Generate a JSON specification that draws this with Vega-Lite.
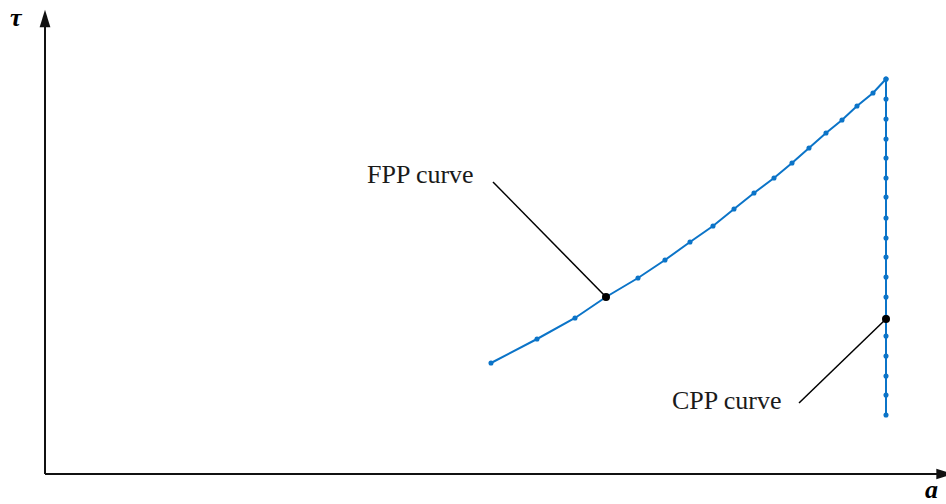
{
  "$schema": "https://vega.github.io/schema/vega-lite/v6.json",
  "width": 946,
  "height": 504,
  "padding": 0,
  "autosize": {"type": "none"},
  "background": "white",
  "config": {"view": {"stroke": null}},
  "datasets": {
    "curve": [
      {"series": "FPP", "i": 1, "a": 4.46, "t": 1.11},
      {"series": "FPP", "i": 2, "a": 4.92, "t": 1.35},
      {"series": "FPP", "i": 3, "a": 5.30, "t": 1.56},
      {"series": "FPP", "i": 4, "a": 5.61, "t": 1.77},
      {"series": "FPP", "i": 5, "a": 5.93, "t": 1.96},
      {"series": "FPP", "i": 6, "a": 6.20, "t": 2.14},
      {"series": "FPP", "i": 7, "a": 6.45, "t": 2.32},
      {"series": "FPP", "i": 8, "a": 6.68, "t": 2.48},
      {"series": "FPP", "i": 9, "a": 6.89, "t": 2.65},
      {"series": "FPP", "i": 10, "a": 7.09, "t": 2.81},
      {"series": "FPP", "i": 11, "a": 7.29, "t": 2.96},
      {"series": "FPP", "i": 12, "a": 7.47, "t": 3.11},
      {"series": "FPP", "i": 13, "a": 7.64, "t": 3.26},
      {"series": "FPP", "i": 14, "a": 7.81, "t": 3.41},
      {"series": "FPP", "i": 15, "a": 7.97, "t": 3.54},
      {"series": "FPP", "i": 16, "a": 8.12, "t": 3.68},
      {"series": "FPP", "i": 17, "a": 8.28, "t": 3.81},
      {"series": "FPP", "i": 18, "a": 8.41, "t": 3.95},
      {"series": "CPP", "i": 1, "a": 8.41, "t": 3.95},
      {"series": "CPP", "i": 2, "a": 8.41, "t": 3.75},
      {"series": "CPP", "i": 3, "a": 8.41, "t": 3.55},
      {"series": "CPP", "i": 4, "a": 8.41, "t": 3.35},
      {"series": "CPP", "i": 5, "a": 8.41, "t": 3.16},
      {"series": "CPP", "i": 6, "a": 8.41, "t": 2.96},
      {"series": "CPP", "i": 7, "a": 8.41, "t": 2.77},
      {"series": "CPP", "i": 8, "a": 8.41, "t": 2.56},
      {"series": "CPP", "i": 9, "a": 8.41, "t": 2.36},
      {"series": "CPP", "i": 10, "a": 8.41, "t": 2.17},
      {"series": "CPP", "i": 11, "a": 8.41, "t": 1.97},
      {"series": "CPP", "i": 12, "a": 8.41, "t": 1.77},
      {"series": "CPP", "i": 13, "a": 8.41, "t": 1.57},
      {"series": "CPP", "i": 14, "a": 8.41, "t": 1.38},
      {"series": "CPP", "i": 15, "a": 8.41, "t": 1.18},
      {"series": "CPP", "i": 16, "a": 8.41, "t": 0.98},
      {"series": "CPP", "i": 17, "a": 8.41, "t": 0.79},
      {"series": "CPP", "i": 18, "a": 8.41, "t": 0.59}
    ],
    "axes": [
      {"name": "tau", "a": 0, "t": 0, "a2": 0, "t2": 4.48},
      {"name": "a", "a": 0, "t": 0, "a2": 8.93, "t2": 0}
    ],
    "leaders": [
      {"name": "FPP", "a": 4.48, "t": 2.92, "a2": 5.61, "t2": 1.77},
      {"name": "CPP", "a": 7.54, "t": 0.71, "a2": 8.41, "t2": 1.55}
    ],
    "marked": [
      {"name": "FPP", "a": 5.61, "t": 1.77},
      {"name": "CPP", "a": 8.41, "t": 1.55}
    ],
    "labels": [
      {"label": "FPP curve", "a": 3.22, "t": 2.91},
      {"label": "CPP curve", "a": 6.27, "t": 0.65}
    ]
  },
  "layer": [
    {
      "data": {"name": "axes"},
      "mark": {"type": "rule", "color": "#111111", "strokeWidth": 2},
      "encoding": {
        "x": {"field": "a", "type": "quantitative", "scale": {"domain": [-0.45, 9.01], "nice": false, "zero": false}, "axis": null},
        "y": {"field": "t", "type": "quantitative", "scale": {"domain": [-0.30, 4.74], "nice": false, "zero": false}, "axis": null},
        "x2": {"field": "a2"},
        "y2": {"field": "t2"}
      }
    },
    {
      "data": {"values": [{"axis": "tau", "a": 0, "t": 4.555}]},
      "mark": {"type": "point", "shape": "M0,-1L0.62,1L-0.62,1Z", "filled": true, "color": "#111111", "opacity": 1, "size": 300},
      "encoding": {
        "x": {"field": "a", "type": "quantitative", "axis": null},
        "y": {"field": "t", "type": "quantitative", "axis": null}
      }
    },
    {
      "data": {"values": [{"axis": "a", "a": 9.0, "t": 0}]},
      "mark": {"type": "point", "shape": "M1,0L-1,0.62L-1,-0.62Z", "filled": true, "color": "#111111", "opacity": 1, "size": 300},
      "encoding": {
        "x": {"field": "a", "type": "quantitative", "axis": null},
        "y": {"field": "t", "type": "quantitative", "axis": null}
      }
    },
    {
      "data": {"name": "curve"},
      "mark": {"type": "line", "color": "#0b74c8", "strokeWidth": 2},
      "encoding": {
        "x": {"field": "a", "type": "quantitative", "axis": null},
        "y": {"field": "t", "type": "quantitative", "axis": null},
        "detail": {"field": "series"},
        "order": {"field": "i", "type": "quantitative"}
      }
    },
    {
      "data": {"name": "curve"},
      "mark": {"type": "circle", "color": "#0b74c8", "opacity": 1, "size": 26},
      "encoding": {
        "x": {"field": "a", "type": "quantitative", "axis": null},
        "y": {"field": "t", "type": "quantitative", "axis": null}
      }
    },
    {
      "data": {"name": "leaders"},
      "mark": {"type": "rule", "color": "#000000", "strokeWidth": 1.5},
      "encoding": {
        "x": {"field": "a", "type": "quantitative", "axis": null},
        "y": {"field": "t", "type": "quantitative", "axis": null},
        "x2": {"field": "a2"},
        "y2": {"field": "t2"}
      }
    },
    {
      "data": {"name": "marked"},
      "mark": {"type": "circle", "color": "#000000", "opacity": 1, "size": 64},
      "encoding": {
        "x": {"field": "a", "type": "quantitative", "axis": null},
        "y": {"field": "t", "type": "quantitative", "axis": null}
      }
    },
    {
      "data": {"name": "labels"},
      "mark": {"type": "text", "font": "Liberation Serif", "fontSize": 26, "align": "left", "baseline": "alphabetic", "color": "#1a1a1a"},
      "encoding": {
        "x": {"field": "a", "type": "quantitative", "axis": null},
        "y": {"field": "t", "type": "quantitative", "axis": null},
        "text": {"field": "label"}
      }
    },
    {
      "data": {"values": [{"sym": "τ", "a": -0.35, "t": 4.48}, {"sym": "a", "a": 8.8, "t": -0.24}]},
      "mark": {"type": "text", "font": "Liberation Serif", "fontSize": 26, "fontStyle": "italic", "fontWeight": "bold", "align": "left", "baseline": "alphabetic", "color": "#000000"},
      "encoding": {
        "x": {"field": "a", "type": "quantitative", "axis": null},
        "y": {"field": "t", "type": "quantitative", "axis": null},
        "text": {"field": "sym"}
      }
    }
  ]
}
